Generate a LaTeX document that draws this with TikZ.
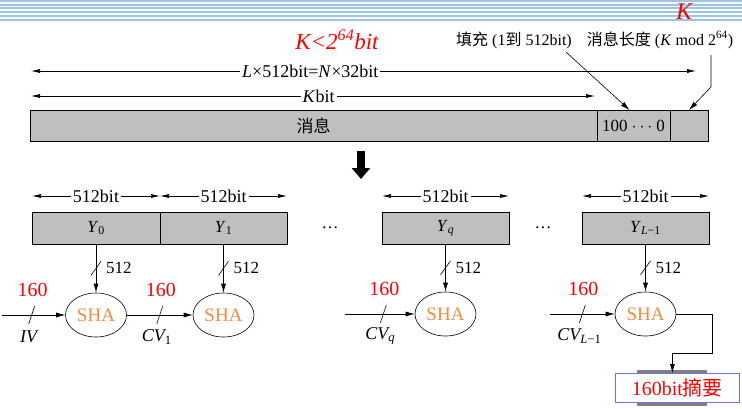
\documentclass[tikz,border=0pt]{standalone}
\usepackage{fontspec}
\setmainfont{Liberation Serif}
\newfontfamily\cjk{Noto Sans CJK SC}
\usepackage{xcolor}
\usetikzlibrary{arrows.meta,positioning,shapes.geometric,calc}
\definecolor{stripeblue}{HTML}{9DC3E6}
\definecolor{cellgray}{HTML}{BFBFBF}
\definecolor{shaorange}{HTML}{F58A3C}
\definecolor{digestblue}{HTML}{6F6FF5}
\newcommand{\zh}[1]{{\cjk #1}}
\tikzset{
  cell/.style={draw,fill=cellgray,inner sep=0pt,outer sep=0pt,anchor=north west,line width=0.6pt,
               font=\fontsize{17}{17}\selectfont},
  dimline/.style={{Latex[length=9pt,width=4pt]}-{Latex[length=9pt,width=4pt]},line width=0.6pt},
  flow/.style={-{Latex[length=9pt,width=5pt]},line width=0.6pt},
  sha/.style={draw,ellipse,minimum width=61pt,minimum height=44pt,inner sep=0pt,
              line width=0.6pt,text=shaorange,font=\fontsize{19}{19}\selectfont},
  bitlabel/.style={fill=white,inner sep=2pt,font=\fontsize{18}{18}\selectfont},
  redlabel/.style={text=red,font=\fontsize{20}{20}\selectfont},
  cvlabel/.style={font=\fontsize{18}{18}\selectfont\itshape},
  widthlabel/.style={anchor=west,inner sep=1pt,font=\fontsize{17}{17}\selectfont},
  toplabel/.style={inner sep=1pt,font=\fontsize{16}{16}\selectfont},
}
\begin{document}
\begin{tikzpicture}[x=1pt,y=-1pt]
  \useasboundingbox (0,0) rectangle (742,408);
  \foreach \s in {1,4.6,8.3,12,15.7,19.5}
    \draw[stripeblue,line width=2pt] (0,\s) -- (742,\s);
  \node[text=red,font=\fontsize{24}{24}\selectfont\itshape] (kmark) at (684,12) {K};

  \node[text=red,font=\fontsize{23}{23}\selectfont\itshape] (bound) at (337,40)
       {K<2\textsuperscript{64}bit};
  \node[toplabel] (padtext) at (514,40) {\zh{填充} (1\zh{到} 512bit)};
  \node[toplabel] (lentext) at (660,40) {\zh{消息长度} (\textit{K} mod 2\textsuperscript{64})};

  \node[cell,minimum width=567pt,minimum height=31pt] (msg) at (30,110) {\zh{消息}};
  \node[cell,minimum width=73pt,minimum height=31pt,right=0pt of msg] (pad) {100 $\cdots$ 0};
  \node[cell,minimum width=38pt,minimum height=31pt,right=0pt of pad] (len) {};

  \coordinate (la) at (31,71);
  \coordinate (lb) at (696,71);
  \draw[dimline] (la) -- (lb) node[bitlabel,pos=0.42] {\textit{L}×512bit=\textit{N}×32bit};
  \coordinate (ka) at (31,96);
  \coordinate (kb) at (595,96);
  \draw[dimline] (ka) -- (kb) node[bitlabel,pos=0.51] {\textit{K}bit};

  \coordinate (padfrom) at (566,52);
  \draw[flow] (padfrom) -- ([xshift=-4pt]pad.north);
  \coordinate (lenfrom) at (711,55);
  \draw[flow] (lenfrom) -- (711,87) -- (len.north);

  \coordinate (bigtop) at (361,151);
  \coordinate (bigbot) at (361,179);
  \draw[line width=8pt,-{Triangle[length=11pt,width=18pt]}] (bigtop) -- (bigbot);

  \node[cell,minimum width=128pt,minimum height=32pt] (y0) at (32,212) {\textit{Y}\textsubscript{0}};
  \node[cell,minimum width=127pt,minimum height=32pt,right=0pt of y0] (y1) {\textit{Y}\textsubscript{1}};
  \node[cell,minimum width=127pt,minimum height=32pt] (yq) at (382,212) {\textit{Y}\textsubscript{\textit{q}}};
  \node[cell,minimum width=127pt,minimum height=32pt] (yl) at (582,212) {\textit{Y}\textsubscript{\textit{L}−1}};

  \foreach \b in {y0,y1,yq,yl}{
    \draw[dimline] ([yshift=16pt]\b.north west) -- ([yshift=16pt]\b.north east)
      node[bitlabel,midway] {512bit};
  }
  \node[font=\fontsize{17}{17}\selectfont] (dots1) at (330,228) {\dots};
  \node[font=\fontsize{17}{17}\selectfont] (dots2) at (543,228) {\dots};

  \node[sha] (sha0) at (96,315) {SHA};
  \node[sha] (sha1) at (223.5,315) {SHA};
  \node[sha] (shaq) at (445.5,314) {SHA};
  \node[sha] (shal) at (645.5,314) {SHA};

  \foreach \b/\s in {y0/sha0,y1/sha1,yq/shaq,yl/shal}{
    \draw[flow] (\b.south) -- coordinate (\s cut) (\s.north);
    \draw[line width=0.6pt] ([shift={(-5,7)}]\s cut) -- ([shift={(5,-7)}]\s cut);
    \node[widthlabel] at ([xshift=9pt]\s cut) {512};
  }

  \coordinate (ivin) at (2,315);
  \coordinate (cvqin) at (345,314);
  \coordinate (cvlin) at (550,314);
  \draw[flow] (ivin) -- coordinate[pos=0.47] (ivcut) (sha0.west);
  \draw[flow] (sha0.east) -- coordinate[pos=0.5] (cv1cut) (sha1.west);
  \draw[flow] (cvqin) -- coordinate[pos=0.55] (cvqcut) (shaq.west);
  \draw[flow] (cvlin) -- coordinate[pos=0.5] (cvlcut) (shal.west);

  \foreach \c/\t in {ivcut/IV,cv1cut/CV\textsubscript{\upshape 1},cvqcut/CV\textsubscript{q},cvlcut/CV\textsubscript{L\upshape −1}}{
    \draw[line width=0.6pt] ([shift={(-3,9)}]\c) -- ([shift={(3,-9)}]\c);
    \node[redlabel] at ([shift={(1,-25)}]\c) {160};
    \node[cvlabel] at ([shift={(-3,22)}]\c) {\t};
  }

  \fill[gray] (637,370) rectangle (707,406);
  \node[draw=digestblue,fill=white,line width=0.8pt,anchor=north west,minimum width=124pt,
        minimum height=29pt,inner sep=0pt,redlabel] (digest) at (615,373) {160bit\zh{摘要}};
  \draw[flow] (shal.east) -| (712,353) -| ([xshift=-5pt]digest.north);
\end{tikzpicture}
\end{document}
